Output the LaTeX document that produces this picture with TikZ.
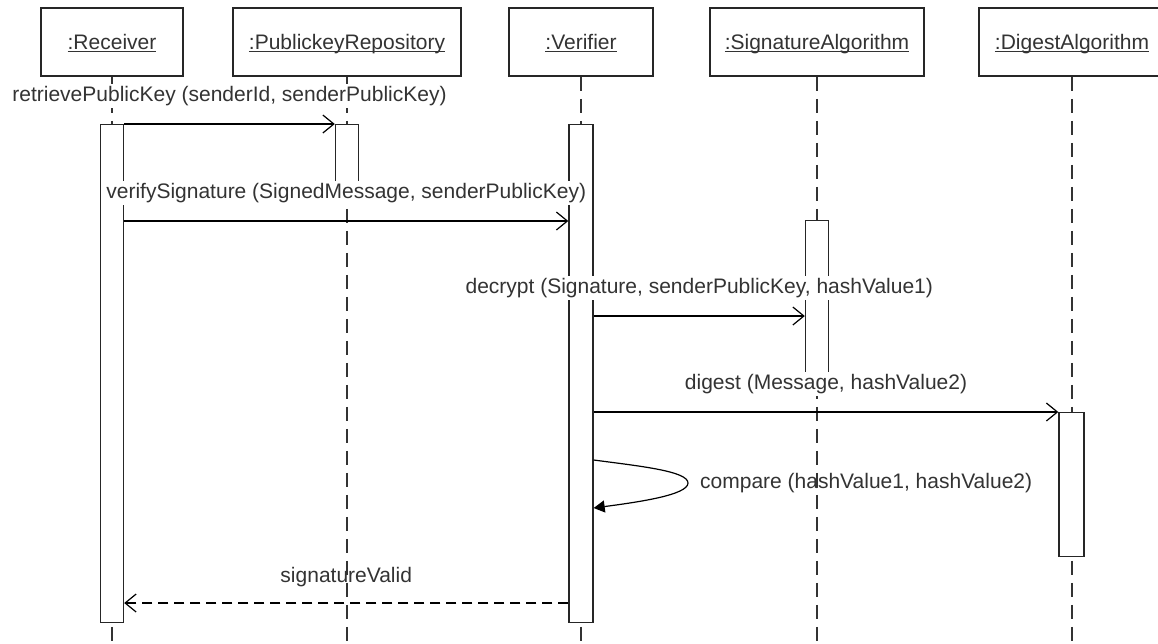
\documentclass[tikz,border=0pt]{standalone}
\usepackage{fontspec}
\setmainfont{Liberation Sans}
\usetikzlibrary{arrows.meta,calc}
\newcommand\objname[1]{\setbox0\hbox{#1}\rlap{\rule[-2.6pt]{\wd0}{1.3pt}}\box0}
\begin{document}
\begin{tikzpicture}[x=1pt,y=-1pt,
  font=\fontsize{21}{25}\selectfont,
  every node/.style={text=black!80},
  objbox/.style={draw=black!85, line width=1.8pt, fill=white, inner sep=0pt,
    minimum height=68pt, text height=15pt, text depth=0pt},
  lifeline/.style={draw=black!80, line width=1.8pt, dash pattern=on 14pt off 8pt},
  actbar/.style={draw=black!85, line width=1.4pt, fill=white, minimum width=23pt,
    inner sep=0pt, anchor=north},
  msg/.style={draw=black, line width=1.2pt, -{Straight Barb[length=11pt,width=18pt]}},
  retmsg/.style={msg, dash pattern=on 10pt off 6pt},
  selfmsg/.style={draw=black, line width=1.2pt, -{Triangle[length=11pt,width=12pt]}},
  lbl/.style={fill=white, inner sep=2pt, text height=15pt, text depth=4.5pt},
  plainlbl/.style={inner sep=2pt, text height=15pt, text depth=4.5pt},
]
\useasboundingbox (0,0) rectangle (1158,643);
\clip (0,0) rectangle (1158,643);
\fill[white] (0,0) rectangle (1158,643);

% object boxes
\node[objbox, minimum width=142pt] (rec) at (112,42) {\objname{:Receiver}};
\node[objbox, minimum width=228pt] (pkr) at (347,42) {\objname{:PublickeyRepository}};
\node[objbox, minimum width=144pt] (ver) at (581,42) {\objname{:Verifier}};
\node[objbox, minimum width=214pt] (sig) at (817,42) {\objname{:SignatureAlgorithm}};
\node[objbox, minimum width=186pt] (dig) at (1072,42) {\objname{:DigestAlgorithm}};

% lifelines
\coordinate (bottom) at (0,650);
\foreach \o in {rec,pkr,ver,sig,dig}
  \draw[lifeline] (\o.south) -- (\o.south |- bottom);

% activation bars
\node[actbar, minimum height=498pt] (rbar) at (112,124) {};
\node[actbar, minimum height=72pt] (pbar) at (347,124) {};
\node[actbar, minimum width=24pt, minimum height=498pt] (vbar) at (581,124) {};
\node[actbar, minimum height=165pt] (sbar) at (817,220) {};
\node[actbar, minimum width=25pt, minimum height=144pt] (dbar) at (1071.5,412) {};

% message rows
\coordinate (y1) at (0,124);
\coordinate (y2) at (0,221);
\coordinate (y3) at (0,316);
\coordinate (y4) at (0,412);
\coordinate (y5a) at (0,460);
\coordinate (y5b) at (0,508);
\coordinate (y6) at (0,603);
\coordinate (loopend) at (688,483);

\draw[msg] (rbar.east |- y1) -- node[lbl, yshift=28pt] (t1)
  {retrievePublicKey (senderId, senderPublicKey)} (pbar.west |- y1);
\draw[msg] (rbar.east |- y2) -- node[lbl, yshift=28pt] (t2)
  {verifySignature (SignedMessage, senderPublicKey)} (vbar.west |- y2);
\draw[msg] (vbar.east |- y3) -- node[lbl, yshift=28pt] (t3)
  {decrypt (Signature, senderPublicKey, hashValue1)} (sbar.west |- y3);
\draw[msg] (vbar.east |- y4) -- node[lbl, yshift=28pt] (t4)
  {digest (Message, hashValue2)} (dbar.west |- y4);
\draw[selfmsg] (vbar.east |- y5a) .. controls +(45,6) and +(0,-12) .. (loopend)
  .. controls +(0,12) and +(45,-6) .. (vbar.east |- y5b);
\node[plainlbl, anchor=west] (t5) at ([xshift=10pt]loopend) {compare (hashValue1, hashValue2)};
\draw[retmsg] (vbar.west |- y6) -- node[plainlbl, yshift=26pt] (t6)
  {signatureValid} (rbar.east |- y6);
\end{tikzpicture}
\end{document}
